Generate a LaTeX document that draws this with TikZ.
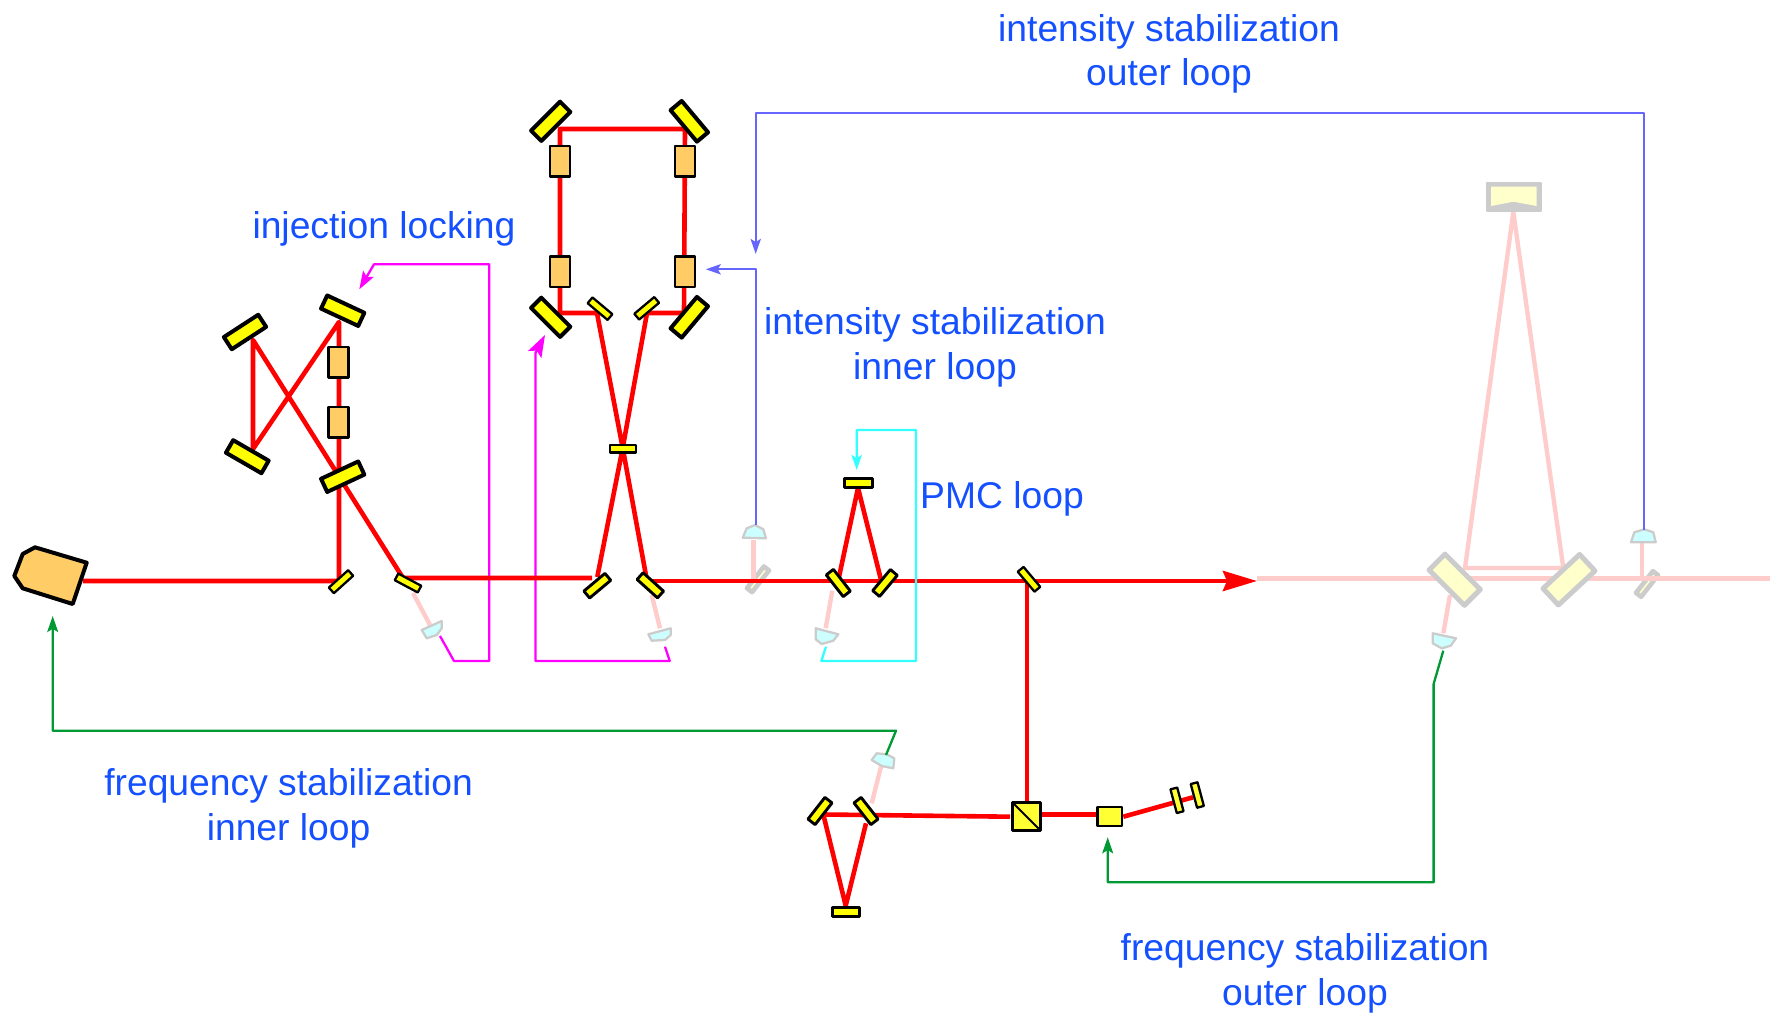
\documentclass[tikz,border=0pt]{standalone}
\usepackage{fontspec}
\setmainfont{Liberation Sans}
\usetikzlibrary{arrows.meta}
\definecolor{beamred}{HTML}{FF0000}
\definecolor{dimred}{HTML}{FFCCCC}
\definecolor{mirfill}{HTML}{FFFF00}
\definecolor{softfill}{HTML}{FFFF33}
\definecolor{palefill}{HTML}{FFFFCC}
\definecolor{orangefill}{HTML}{FFCC66}
\definecolor{pdfill}{HTML}{CCFFFF}
\definecolor{greyline}{HTML}{CCCCCC}
\definecolor{sigmag}{HTML}{FF00FF}
\definecolor{sigblue}{HTML}{6666FF}
\definecolor{sigcyan}{HTML}{33FFFF}
\definecolor{siggreen}{HTML}{009933}
\definecolor{labelblue}{HTML}{1450FF}
\tikzset{
  beam/.style={draw=beamred,line width=4.6pt,line join=round},
  dimbeam/.style={draw=dimred,line width=4.4pt,line join=round},
  part/.style={draw=black,rectangle,inner sep=0pt,outer sep=0pt,line join=round},
  bigmirror/.style={part,fill=mirfill,line width=4pt,minimum width=41pt,minimum height=14.5pt},
  midmirror/.style={part,fill=mirfill,line width=2.9pt,minimum width=27.5pt,minimum height=9pt},
  smallmirror/.style={part,fill=mirfill,line width=2.3pt,minimum width=26pt,minimum height=7.5pt},
  orangebox/.style={part,fill=orangefill,line width=2.5pt,minimum width=20pt,minimum height=30.5pt},
  greymirror/.style={part,draw=greyline,fill=palefill,line width=5pt,minimum width=50pt,minimum height=22.5pt},
  greyplate/.style={part,draw=greyline,fill=palefill,line width=4.6pt,minimum width=27.5pt,minimum height=6.5pt},
  pd/.style={draw=greyline,fill=pdfill,line width=2.3pt,line join=round},
  sig/.style={line width=2.3pt,line join=round},
  sigtip/.style={-{Stealth[length=#1,width=0.68*#1,inset=0.2*#1]}},
  label/.style={text=labelblue,align=center,inner sep=0pt,font=\fontsize{37.25}{44.5}\selectfont},
}
\begin{document}
\begin{tikzpicture}[x=1pt,y=-1pt]
\useasboundingbox (0,0) rectangle (1781,1019);
% beam and signal vertices
\coordinate (laserout) at (83,581);
\coordinate (bs1) at (339,581);
\coordinate (ring1a) at (339,322);
\coordinate (ring1b) at (253,449);
\coordinate (ring1c) at (253,340);
\coordinate (ring1d) at (403,578);
\coordinate (pick1) at (592,578);
\coordinate (up1) at (597.3,577);
\coordinate (crossL) at (622.7,448);
\coordinate (up1top) at (647,313);
\coordinate (ring2a) at (684,313);
\coordinate (ring2b) at (685,129);
\coordinate (ring2c) at (560,129);
\coordinate (ring2d) at (560,313);
\coordinate (ring2e) at (597,313);
\coordinate (down2) at (647,581);
\coordinate (arrowtip) at (1257,581);
\coordinate (pmcL) at (839,577);
\coordinate (pmcT) at (858,488);
\coordinate (pmcR) at (881,580);
\coordinate (tap) at (1027,581);
\coordinate (pbsin) at (1027,802);
\coordinate (pbsW) at (1010,816.7);
\coordinate (fcL) at (823.3,814.5);
\coordinate (fcB) at (845.7,905.7);
\coordinate (fcR) at (866,823.3);
\coordinate (pbsE) at (1042.3,814.3);
\coordinate (eomW) at (1096.7,814.3);
\coordinate (eomE) at (1123.3,816.7);
\coordinate (tail) at (1193,797.3);
% dim beam vertices
\coordinate (d1a) at (413,593);
\coordinate (d1b) at (430,625);
\coordinate (d2a) at (651.7,595);
\coordinate (d2b) at (660,628.3);
\coordinate (d3a) at (753.3,540);
\coordinate (d3b) at (753.3,581);
\coordinate (d4a) at (832.3,590.7);
\coordinate (d4b) at (825.7,628.3);
\coordinate (d5a) at (871.7,803.3);
\coordinate (d5b) at (881,766.7);
\coordinate (d6a) at (1257,578.3);
\coordinate (d6b) at (1770,578.3);
\coordinate (omcL) at (1465,568);
\coordinate (omcT) at (1513.3,212);
\coordinate (omcR) at (1563.3,568);
\coordinate (d7a) at (1450,595);
\coordinate (d7b) at (1443.3,633.3);
\coordinate (d8a) at (1641.7,543);
\coordinate (d8b) at (1641.7,578.3);
% signal vertices
\coordinate (m1a) at (440,636);
\coordinate (m1b) at (454,661);
\coordinate (m1c) at (489.3,661);
\coordinate (m1d) at (489.3,264.3);
\coordinate (m1e) at (374,264.3);
\coordinate (m1t) at (359.3,289.3);
\coordinate (m2a) at (665,646.7);
\coordinate (m2b) at (669.7,661);
\coordinate (m2c) at (535.5,661);
\coordinate (m2d) at (535.5,353);
\coordinate (m2t) at (545,335);
\coordinate (b1a) at (755.7,525);
\coordinate (b1b) at (755.7,269.3);
\coordinate (b1t) at (705.7,269.3);
\coordinate (b2a) at (1644.3,529.5);
\coordinate (b2b) at (1644.3,113.3);
\coordinate (b2c) at (755.7,113.3);
\coordinate (b2t) at (755.7,254);
\coordinate (c1a) at (826,646.7);
\coordinate (c1b) at (821.3,661);
\coordinate (c1c) at (916,661);
\coordinate (c1d) at (916,430);
\coordinate (c1e) at (856.7,430);
\coordinate (c1t) at (856.7,470);
\coordinate (g1a) at (886,755);
\coordinate (g1b) at (896,730.7);
\coordinate (g1c) at (52.7,730.7);
\coordinate (g1t) at (52.7,616);
\coordinate (g2a) at (1443.3,650.7);
\coordinate (g2b) at (1433.6,684);
\coordinate (g2c) at (1433.6,882.3);
\coordinate (g2d) at (1107.7,882.3);
\coordinate (g2t) at (1107.7,837.3);

% dim paths and grey optics
\node[greyplate] (tapA) at (758,579.3) [rotate=52] {};
\node[greyplate] (tapB) at (1647,584) [rotate=52] {};
\draw[dimbeam] (d6a) -- (d6b);
\draw[dimbeam] (omcL) -- (omcT) -- (omcR) -- cycle;
\draw[dimbeam] (d1a) -- (d1b);
\draw[dimbeam] (d2a) -- (d2b);
\draw[dimbeam] (d3a) -- (d3b);
\draw[dimbeam] (d4a) -- (d4b);
\draw[dimbeam] (d5a) -- (d5b);
\draw[dimbeam] (d7a) -- (d7b);
\draw[dimbeam] (d8a) -- (d8b);
\node[greymirror] (omcML) at (1454.7,579.7) [rotate=-45] {};
\node[greymirror] (omcMR) at (1569,579.7) [rotate=43] {};
\draw[draw=greyline,fill=greyline,line width=2pt,line join=round] (1487,182.7) rectangle (1540.7,210.7);
\fill[palefill] (1491,186.7) -- (1536.7,186.7) -- (1536.7,206) -- (1513.3,201.7) -- (1491,206) -- cycle;

% injection-locking signal lies under the red beam
\draw[sig,draw=sigmag,sigtip=18pt,fill=none] (m1a) -- (m1b) -- (m1c) -- (m1d) -- (m1e) -- (m1t);
\draw[sig,draw=sigmag,sigtip=22pt] (m2a) -- (m2b) -- (m2c) -- (m2d) -- (m2t);

% red beams
\draw[beam] (laserout) -- (bs1) -- (ring1a) -- (ring1b) -- (ring1c) -- (ring1d) -- (pick1);
\draw[beam] (up1) -- (crossL) -- (up1top) -- (ring2a) -- (ring2b) -- (ring2c) -- (ring2d) -- (ring2e) -- (crossL) -- (down2);
\draw[beam,-{Stealth[length=34pt,width=20pt,inset=4pt]}] (down2) -- (arrowtip);
\draw[beam] (pmcL) -- (pmcT) -- (pmcR);
\draw[beam] (tap) -- (pbsin);
\draw[beam] (pbsW) -- (fcL) -- (fcB) -- (fcR);
\draw[beam] (pbsE) -- (eomW);
\draw[beam] (eomE) -- (tail);

% laser
\draw[draw=black,fill=orangefill,line width=4pt,line join=round] (35,547.3) -- (86.7,562.7) -- (72.7,604) -- (22.7,588.3) -- (14.3,576) -- (22.7,554) -- cycle;

% ring 1
\node[bigmirror] (r1tr) at (342.7,310.7) [rotate=-25] {};
\node[bigmirror] (r1tl) at (245,332) [rotate=33] {};
\node[bigmirror] (r1bl) at (247.3,456.7) [rotate=-30] {};
\node[bigmirror] (r1br) at (342.7,476.7) [rotate=25] {};
\node[orangebox] (r1o1) at (338.7,362.2) {};
\node[orangebox] (r1o2) at (338.7,422.2) {};
\node[smallmirror] (bsA) at (341,581.7) [rotate=42] {};
\node[smallmirror] (bsB) at (408,583) [rotate=-28] {};

% ring 2
\node[bigmirror] (r2tl) at (550.7,121.3) [rotate=45] {};
\node[bigmirror] (r2tr) at (689.3,121.3) [rotate=-50] {};
\node[bigmirror] (r2bl) at (550.7,317.3) [rotate=-45] {};
\node[bigmirror] (r2br) at (689.3,317.3) [rotate=50] {};
\node[orangebox] (r2o1) at (560,161.3) {};
\node[orangebox] (r2o2) at (685,161.3) {};
\node[orangebox] (r2o3) at (560,271.7) {};
\node[orangebox] (r2o4) at (685,271.7) {};
\node[smallmirror] (r2s1) at (600,308.7) [rotate=-40] {};
\node[smallmirror] (r2s2) at (646.7,308.3) [rotate=40] {};
\node[smallmirror] (r2c) at (622.7,448.8) {};
\node[midmirror] (r2p1) at (597.3,585.7) [rotate=40] {};
\node[midmirror] (r2p2) at (650.3,585.3) [rotate=-42] {};

% PMC
\node[midmirror] (pmcA) at (838.3,583) [rotate=-52] {};
\node[midmirror] (pmcB) at (885,583) [rotate=50] {};
\node[midmirror] (pmcC) at (858.4,482.7) {};
\node[smallmirror] (tapC) at (1029,579.3) [rotate=-50] {};

% frequency reference
\node[midmirror] (fcA) at (820,811) [rotate=52] {};
\node[midmirror] (fcC) at (866,811) [rotate=-52] {};
\node[midmirror] (fcD) at (846,911.8) {};
\node[part,fill=softfill,line width=3pt,minimum size=28.6pt] (pbs) at (1026.5,816.5) {};
\draw[line width=1.8pt] (pbs.north west) -- (pbs.south east);
\node[part,fill=softfill,line width=2.3pt,minimum width=24.5pt,minimum height=19pt] (eom) at (1109.7,816.3) {};
\node[part,fill=softfill,line width=2.3pt,minimum width=24.5pt,minimum height=7pt] (end1) at (1177,800.3) [rotate=-75] {};
\node[part,fill=softfill,line width=2.3pt,minimum width=24.5pt,minimum height=7pt] (end2) at (1197.3,795) [rotate=-75] {};

% photodetectors
\draw[pd] (421.7,630) -- (441.7,621) -- (441.7,628.3) -- (436.7,635) -- (426.7,638.3) -- cycle;
\draw[pd] (648.3,634.3) -- (670.7,628.3) -- (670.7,635) -- (665,640) -- (651.7,640.7) -- cycle;
\draw[pd] (742.7,537.7) -- (746.7,528.3) -- (755,525) -- (763.3,529.3) -- (766,538.3) -- cycle;
\draw[pd] (815.7,628.3) -- (838.3,634.3) -- (833.3,640.7) -- (821.7,644) -- (815.7,639.3) -- cycle;
\draw[pd] (871.7,760) -- (876.7,753.3) -- (886.7,754.3) -- (894.3,758.3) -- (893.3,768.3) -- (881.7,766) -- cycle;
\draw[pd] (1432.7,633.3) -- (1456,638.3) -- (1450.7,645.7) -- (1441.7,648.3) -- (1432.7,643.3) -- cycle;
\draw[pd] (1631,542.3) -- (1634.3,532.3) -- (1644.3,529.3) -- (1653.3,532.3) -- (1655.7,542.3) -- cycle;

% signals above the beam
\draw[sig,draw=sigblue,sigtip=15pt] (b1a) -- (b1b) -- (b1t);
\draw[sig,draw=sigblue,sigtip=15pt] (b2a) -- (b2b) -- (b2c) -- (b2t);
\draw[sig,draw=sigcyan,sigtip=15pt] (c1a) -- (c1b) -- (c1c) -- (c1d) -- (c1e) -- (c1t);
\draw[sig,draw=siggreen,sigtip=16pt] (g1a) -- (g1b) -- (g1c) -- (g1t);
\draw[sig,draw=siggreen,sigtip=16pt] (g2a) -- (g2b) -- (g2c) -- (g2d) -- (g2t);

% labels
\node[label] (lbIO) at (1169,54) {intensity stabilization\\outer loop};
\node[label] (lbIL) at (384,229) {injection locking};
\node[label] (lbII) at (935,347.5) {intensity stabilization\\inner loop};
\node[label] (lbPMC) at (1002,498.5) {PMC loop};
\node[label] (lbFI) at (288.6,808.5) {frequency stabilization\\inner loop};
\node[label] (lbFO) at (1305,973.5) {frequency stabilization\\outer loop};
\end{tikzpicture}
\end{document}
